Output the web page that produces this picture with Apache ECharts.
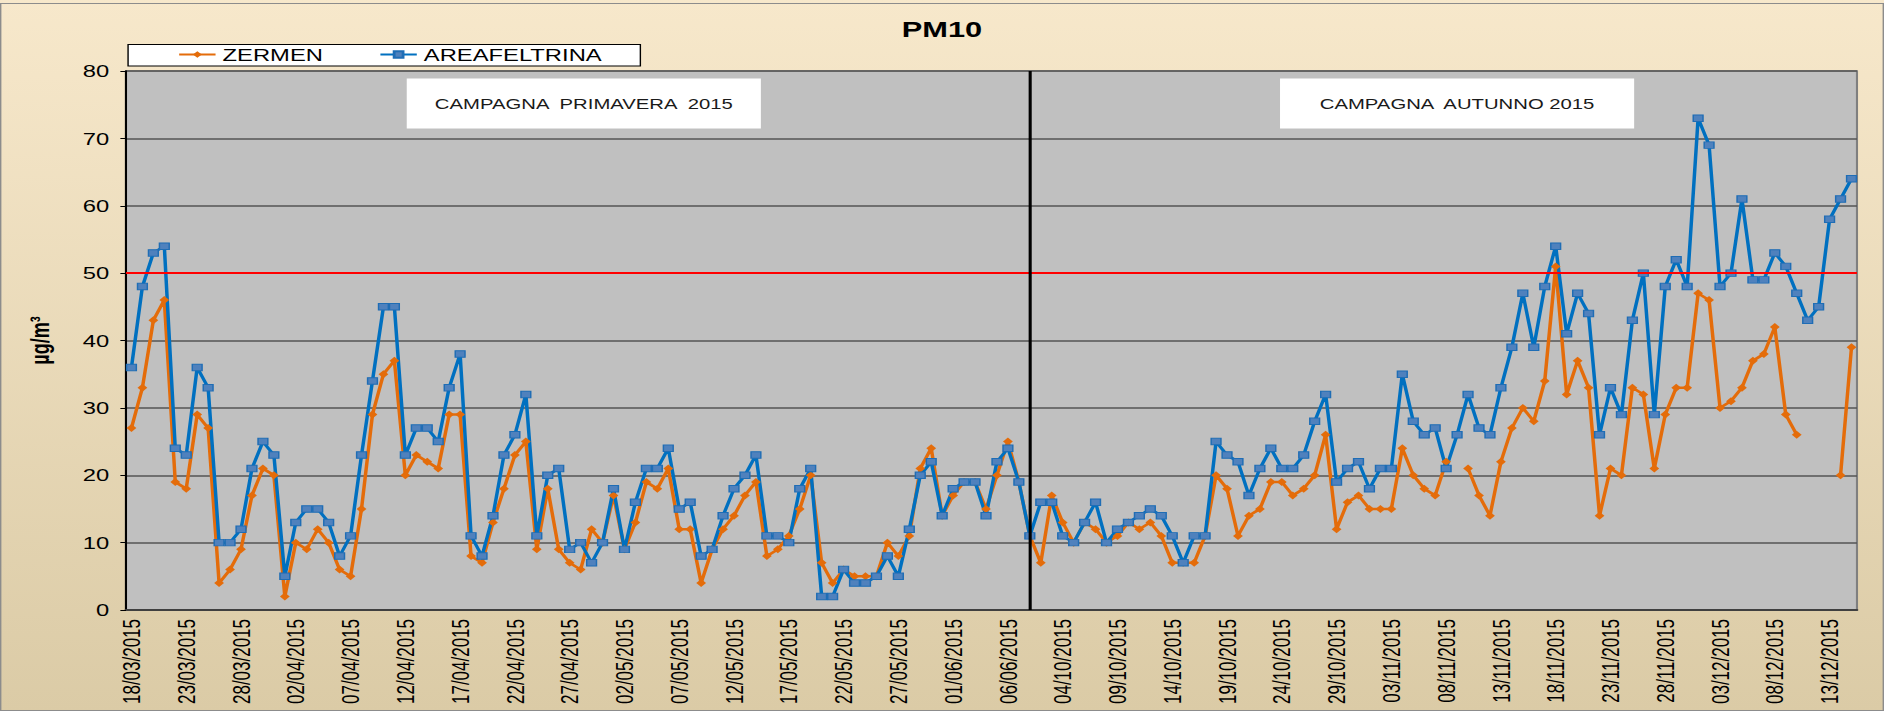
<!DOCTYPE html>
<html>
<head>
<meta charset="utf-8">
<title>PM10</title>
<script src="https://cdn.jsdelivr.net/npm/echarts@6/dist/echarts.min.js"></script>
<style>
  html, body { margin: 0; padding: 0; background: #fff; overflow: hidden; }
  /* the original chart is stretched horizontally, so draw narrow and stretch */
  #chart { width: 1346px; height: 711px; transform: scaleX(1.39970); transform-origin: 0 0; }
</style>
</head>
<body>
<div id="chart"></div>
<script>
const dates = [
  '18/03/2015', '19/03/2015', '20/03/2015', '21/03/2015', '22/03/2015', '23/03/2015', '24/03/2015',
  '25/03/2015', '26/03/2015', '27/03/2015', '28/03/2015', '29/03/2015', '30/03/2015', '31/03/2015',
  '01/04/2015', '02/04/2015', '03/04/2015', '04/04/2015', '05/04/2015', '06/04/2015', '07/04/2015',
  '08/04/2015', '09/04/2015', '10/04/2015', '11/04/2015', '12/04/2015', '13/04/2015', '14/04/2015',
  '15/04/2015', '16/04/2015', '17/04/2015', '18/04/2015', '19/04/2015', '20/04/2015', '21/04/2015',
  '22/04/2015', '23/04/2015', '24/04/2015', '25/04/2015', '26/04/2015', '27/04/2015', '28/04/2015',
  '29/04/2015', '30/04/2015', '01/05/2015', '02/05/2015', '03/05/2015', '04/05/2015', '05/05/2015',
  '06/05/2015', '07/05/2015', '08/05/2015', '09/05/2015', '10/05/2015', '11/05/2015', '12/05/2015',
  '13/05/2015', '14/05/2015', '15/05/2015', '16/05/2015', '17/05/2015', '18/05/2015', '19/05/2015',
  '20/05/2015', '21/05/2015', '22/05/2015', '23/05/2015', '24/05/2015', '25/05/2015', '26/05/2015',
  '27/05/2015', '28/05/2015', '29/05/2015', '30/05/2015', '31/05/2015', '01/06/2015', '02/06/2015',
  '03/06/2015', '04/06/2015', '05/06/2015', '06/06/2015', '07/06/2015', '08/06/2015',
  '02/10/2015', '03/10/2015', '04/10/2015', '05/10/2015', '06/10/2015', '07/10/2015', '08/10/2015',
  '09/10/2015', '10/10/2015', '11/10/2015', '12/10/2015', '13/10/2015', '14/10/2015', '15/10/2015',
  '16/10/2015', '17/10/2015', '18/10/2015', '19/10/2015', '20/10/2015', '21/10/2015', '22/10/2015',
  '23/10/2015', '24/10/2015', '25/10/2015', '26/10/2015', '27/10/2015', '28/10/2015', '29/10/2015',
  '30/10/2015', '31/10/2015', '01/11/2015', '02/11/2015', '03/11/2015', '04/11/2015', '05/11/2015',
  '06/11/2015', '07/11/2015', '08/11/2015', '09/11/2015', '10/11/2015', '11/11/2015', '12/11/2015',
  '13/11/2015', '14/11/2015', '15/11/2015', '16/11/2015', '17/11/2015', '18/11/2015', '19/11/2015',
  '20/11/2015', '21/11/2015', '22/11/2015', '23/11/2015', '24/11/2015', '25/11/2015', '26/11/2015',
  '27/11/2015', '28/11/2015', '29/11/2015', '30/11/2015', '01/12/2015', '02/12/2015', '03/12/2015',
  '04/12/2015', '05/12/2015', '06/12/2015', '07/12/2015', '08/12/2015', '09/12/2015', '10/12/2015',
  '11/12/2015', '12/12/2015', '13/12/2015', '14/12/2015', '15/12/2015',
];

const zermen = [
  27, 33, 43, 46, 19, 18, 29, 27, 4, 6,
  9, 17, 21, 20, 2, 10, 9, 12, 10, 6,
  5, 15, 29, 35, 37, 20, 23, 22, 21, 29,
  29, 8, 7, 13, 18, 23, 25, 9, 18, 9,
  7, 6, 12, 10, 17, 9, 13, 19, 18, 21,
  12, 12, 4, 9, 12, 14, 17, 19, 8, 9,
  11, 15, 20, 7, 4, 6, 5, 5, 5, 10,
  8, 11, 21, 24, 14, 17, 19, 19, 15, 20,
  25, 19, 11, 7, 17, 13, 10, 13, 12, 10,
  11, 13, 12, 13, 11, 7, 7, 7, 11, 20,
  18, 11, 14, 15, 19, 19, 17, 18, 20, 26,
  12, 16, 17, 15, 15, 15, 24, 20, 18, 17,
  22, null, 21, 17, 14, 22, 27, 30, 28, 34,
  51, 32, 37, 33, 14, 21, 20, 33, 32, 21,
  29, 33, 33, 47, 46, 30, 31, 33, 37, 38,
  42, 29, 26, null, null, null, 20, 39,
];

const areaFeltrina = [
  36, 48, 53, 54, 24, 23, 36, 33, 10, 10,
  12, 21, 25, 23, 5, 13, 15, 15, 13, 8,
  11, 23, 34, 45, 45, 23, 27, 27, 25, 33,
  38, 11, 8, 14, 23, 26, 32, 11, 20, 21,
  9, 10, 7, 10, 18, 9, 16, 21, 21, 24,
  15, 16, 8, 9, 14, 18, 20, 23, 11, 11,
  10, 18, 21, 2, 2, 6, 4, 4, 5, 8,
  5, 12, 20, 22, 14, 18, 19, 19, 14, 22,
  24, 19, 11, 16, 16, 11, 10, 13, 16, 10,
  12, 13, 14, 15, 14, 11, 7, 11, 11, 25,
  23, 22, 17, 21, 24, 21, 21, 23, 28, 32,
  19, 21, 22, 18, 21, 21, 35, 28, 26, 27,
  21, 26, 32, 27, 26, 33, 39, 47, 39, 48,
  54, 41, 47, 44, 26, 33, 29, 43, 50, 29,
  48, 52, 48, 73, 69, 48, 50, 61, 49, 49,
  53, 51, 47, 43, 45, 58, 61, 64,
];

const limitValue = 50;
const campaignSplit = '08/06/2015';
const campaignLabels = ['CAMPAGNA  PRIMAVERA  2015', 'CAMPAGNA  AUTUNNO 2015'];

const FONT = '"Liberation Sans", Arial, sans-serif';

function campaignBox(x, label) {
  return [
    {
      type: 'rect',
      z: 1,
      shape: { x, y: 78.5, width: 253, height: 50 },
      style: { fill: '#fff' },
    },
    {
      type: 'text',
      z: 2,
      x: x + 126.5,
      y: 104,
      style: {
        text: label,
        fill: '#1a1a1a',
        font: `14.5px ${FONT}`,
        align: 'center',
        verticalAlign: 'middle',
      },
    },
  ];
}

const chart = echarts.init(document.getElementById('chart'), null, { renderer: 'svg' });

chart.setOption({
  animation: false,
  backgroundColor: {
    type: 'linear',
    x: 0, y: 0, x2: 0, y2: 1,
    colorStops: [
      { offset: 0, color: '#F7E8CB' },
      { offset: 1, color: '#DBCBA6' },
    ],
  },
  textStyle: { fontFamily: FONT },
  title: {
    text: 'PM10',
    left: 'center',
    top: 14,
    textStyle: { fontSize: 22, fontWeight: 'bold', color: '#000', fontFamily: FONT },
  },
  legend: {
    left: 127,
    top: 46,
    padding: 0,
    itemWidth: 26,
    itemHeight: 8,
    itemGap: 40,
    textStyle: { fontSize: 17, color: '#000', fontFamily: FONT },
    data: ['ZERMEN', 'AREAFELTRINA'],
  },
  graphic: [
    {
      type: 'rect',
      shape: { x: 0.5, y: 3.5, width: 1345, height: 707 },
      style: { fill: null, stroke: '#8c8c8c', lineWidth: 1 },
    },
    {
      type: 'rect',
      shape: { x: 91.5, y: 44.5, width: 366, height: 21.5 },
      style: { fill: '#fff', stroke: '#000', lineWidth: 1 },
    },
    ...campaignBox(290.6, campaignLabels[0]),
    ...campaignBox(914.5, campaignLabels[1]),
  ],
  grid: {
    left: 90,
    right: 19.3,
    top: 71,
    bottom: 101,
    show: true,
    backgroundColor: '#C0C0C0',
    borderColor: '#7f7f7f',
    borderWidth: 1.5,
  },
  xAxis: {
    type: 'category',
    data: dates,
    boundaryGap: true,
    axisLine: { lineStyle: { color: '#404040', width: 2 } },
    axisTick: { interval: 2, length: 5, lineStyle: { color: '#000' } },
    axisLabel: {
      interval: 4,
      rotate: 90,
      margin: 9,
      fontSize: 17,
      color: '#000',
      fontFamily: FONT,
    },
    splitLine: { show: false },
  },
  yAxis: {
    type: 'value',
    min: 0,
    max: 80,
    interval: 10,
    name: 'µg/m³',
    nameLocation: 'middle',
    nameGap: 52,
    nameTextStyle: { fontSize: 18, fontWeight: 'bold', color: '#000', fontFamily: FONT },
    axisLine: { show: true, lineStyle: { color: '#000', width: 1.5 } },
    axisTick: { show: true, length: 4, lineStyle: { color: '#000' } },
    axisLabel: { margin: 12, fontSize: 17, color: '#000', fontFamily: FONT },
    splitLine: { lineStyle: { color: '#555', width: 1.5 } },
  },
  series: [
    {
      name: 'ZERMEN',
      type: 'line',
      data: zermen,
      showAllSymbol: true,
      symbol: 'diamond',
      symbolSize: [7, 8],
      lineStyle: { color: '#E46C0A', width: 2.5 },
      itemStyle: { color: '#E46C0A' },
      markLine: {
        silent: true,
        symbol: 'none',
        label: { show: false },
        data: [
          { yAxis: limitValue, lineStyle: { color: '#FF0000', width: 2, type: 'solid' } },
          { xAxis: campaignSplit, lineStyle: { color: '#000', width: 2.2, type: 'solid' } },
        ],
      },
    },
    {
      name: 'AREAFELTRINA',
      type: 'line',
      data: areaFeltrina,
      showAllSymbol: true,
      symbol: 'rect',
      symbolSize: [7, 6.5],
      lineStyle: { color: '#0070C0', width: 2.5 },
      itemStyle: { color: '#4F81BD', borderColor: '#1F6DB5', borderWidth: 1 },
    },
  ],
});
</script>
</body>
</html>
